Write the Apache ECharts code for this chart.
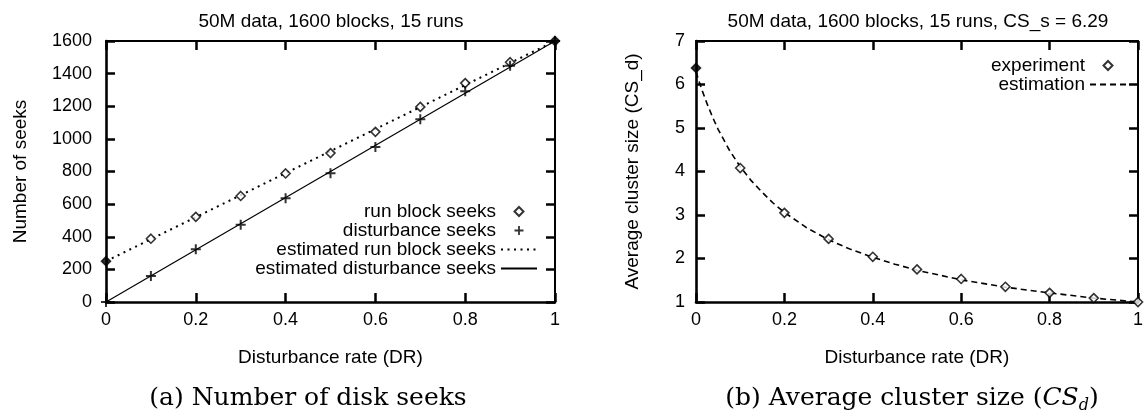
<!DOCTYPE html>
<html>
<head>
<meta charset="utf-8">
<script src="https://cdn.jsdelivr.net/npm/echarts@6/dist/echarts.min.js"></script>
<style>
  html, body { margin: 0; padding: 0; background: #fff; }
  #chart { width: 1146px; height: 419px; }
</style>
</head>
<body>
<div id="chart"></div>
<script>
// Disturbance rate samples shared by both panels
const disturbanceRates = [0, 0.1, 0.2, 0.3, 0.4, 0.5, 0.6, 0.7, 0.8, 0.9, 1];

// Panel (a): number of disk seeks
const runBlockSeeks = [250, 388, 522, 650, 788, 913, 1043, 1196, 1342, 1470, 1600];
const disturbanceSeeks = [0, 160, 323, 473, 636, 790, 950, 1120, 1292, 1448, 1600];
const estRunBlockRates = [0, 1];
const estRunBlockSeeks = [250, 1600];
const estDisturbanceRates = [0, 1];
const estDisturbanceSeeks = [0, 1600];

// Panel (b): average cluster size
const clusterSizeMeasured = [6.38, 4.08, 3.05, 2.45, 2.04, 1.75, 1.53, 1.35, 1.21, 1.09, 1.0];
const estClusterRates = [0, 0.0125, 0.025, 0.0375, 0.05, 0.075, 0.1, 0.125, 0.15, 0.175, 0.2, 0.25, 0.3, 0.35, 0.4, 0.45, 0.5, 0.6, 0.7, 0.8, 0.9, 1];
const estClusterSizes = [6.29, 5.9, 5.56, 5.25, 4.97, 4.5, 4.11, 3.79, 3.52, 3.27, 3.06, 2.71, 2.43, 2.21, 2.03, 1.87, 1.73, 1.51, 1.34, 1.21, 1.09, 1.0];

// Tick values
const rateTicks = [0, 0.2, 0.4, 0.6, 0.8, 1];
const seekTicks = [0, 200, 400, 600, 800, 1000, 1200, 1400, 1600];
const clusterTicks = [1, 2, 3, 4, 5, 6, 7];

// Text
const titleA = '50M data, 1600 blocks, 15 runs';
const titleB = '50M data, 1600 blocks, 15 runs, CS_s = 6.29';
const xName = 'Disturbance rate (DR)';
const yNameA = 'Number of seeks';
const yNameB = 'Average cluster size (CS_d)';
const captionA = '(a) Number of disk seeks';
const captionB = '(b) Average cluster size ({i|CS}{sub|d})';

const SANS = '"Liberation Sans", Arial, Helvetica, sans-serif';
const SERIF = '"DejaVu Serif", "Liberation Serif", serif';
const PLUS = 'path://M4,0H6V4H10V6H6V10H4V6H0V4H4Z';
const DIAMOND = 'path://M5,0L10,5L5,10L0,5Z';

const zip = (xs, ys) => xs.map((x, i) => [x, ys[i]]);
const scaleOf = ticks => ({ min: ticks[0], max: ticks[ticks.length - 1], interval: ticks[1] - ticks[0] });
// end samples are drawn solid where the curves meet
const diamonds = (xs, ys, filled) => xs.map((x, i) => (
  filled.includes(i) ? { value: [x, ys[i]], itemStyle: { color: '#000' } } : { value: [x, ys[i]] }
));

const plain = v => String(v);
const labelStyle = { color: '#000', fontSize: 18, fontFamily: SANS, formatter: plain };
const nameStyle = { color: '#000', fontSize: 19, fontFamily: SANS };
const tickStyle = () => ({ show: true, inside: true, length: 9, lineStyle: { color: '#000', width: 2.5 } });

function xAxes(grid) {
  const s = scaleOf(rateTicks);
  return [
    {
      gridIndex: grid, type: 'value', position: 'bottom', ...s,
      name: xName, nameLocation: 'middle', nameGap: 46, nameTextStyle: nameStyle,
      axisLine: { show: true, onZero: false, lineStyle: { color: '#000', width: 2.6 } },
      axisTick: tickStyle(),
      axisLabel: { ...labelStyle, margin: 9 },
      splitLine: { show: false }
    },
    {
      gridIndex: grid, type: 'value', position: 'top', ...s,
      axisLine: { show: true, onZero: false, lineStyle: { color: '#000', width: 2 } },
      axisTick: tickStyle(),
      axisLabel: { show: false },
      splitLine: { show: false }
    }
  ];
}

function yAxes(grid, ticks, name, gap, margin) {
  const s = scaleOf(ticks);
  return [
    {
      gridIndex: grid, type: 'value', position: 'left', ...s,
      name: name, nameLocation: 'middle', nameGap: gap, nameTextStyle: nameStyle,
      axisLine: { show: true, onZero: false, lineStyle: { color: '#000', width: 2.6 } },
      axisTick: tickStyle(),
      axisLabel: { ...labelStyle, margin: margin },
      splitLine: { show: false }
    },
    {
      gridIndex: grid, type: 'value', position: 'right', ...s,
      axisLine: { show: true, onZero: false, lineStyle: { color: '#000', width: 2 } },
      axisTick: tickStyle(),
      axisLabel: { show: false },
      splitLine: { show: false }
    }
  ];
}

const legendBase = {
  orient: 'vertical', align: 'right', padding: 0, itemGap: 0,
  itemWidth: 36, itemHeight: 9, selectedMode: false, symbolKeepAspect: true,
  textStyle: { color: '#000', fontSize: 19, fontFamily: SANS, lineHeight: 18.3 }
};
// line samples in the key carry no point marker
const lineKey = name => ({ name: name, itemStyle: { opacity: 0 } });

const last = disturbanceRates.length - 1;
const hollow = { color: '#fff', borderColor: '#000', borderWidth: 1.6 };

const option = {
  animation: false,
  backgroundColor: '#fff',
  title: [
    { text: titleA, left: 331, top: 12, textAlign: 'center', padding: 0,
      textStyle: { color: '#000', fontSize: 19, fontWeight: 'normal', fontFamily: SANS } },
    { text: titleB, left: 918, top: 12, textAlign: 'center', padding: 0,
      textStyle: { color: '#000', fontSize: 19, fontWeight: 'normal', fontFamily: SANS } },
    { text: captionA, left: 308, top: 386, textAlign: 'center', padding: 0,
      textStyle: { color: '#000', fontSize: 25, fontWeight: 'normal', fontFamily: SERIF } },
    { text: captionB, left: 912, top: 386, textAlign: 'center', padding: 0,
      textStyle: {
        color: '#000', fontSize: 25, fontWeight: 'normal', fontFamily: SERIF, lineHeight: 25,
        rich: {
          i: { fontSize: 25, fontStyle: 'italic', fontFamily: SERIF, lineHeight: 25 },
          sub: { fontSize: 16, fontStyle: 'italic', fontFamily: SERIF, lineHeight: 16, padding: [14, 0, 0, 0] }
        }
      } }
  ],
  legend: [
    { ...legendBase, right: 608, top: 202,
      data: ['run block seeks', 'disturbance seeks',
             lineKey('estimated run block seeks'), lineKey('estimated disturbance seeks')] },
    { ...legendBase, right: 19, top: 56, data: ['experiment', lineKey('estimation')] }
  ],
  grid: [
    { left: 106, top: 41, width: 449, height: 261 },
    { left: 696, top: 41, width: 453, height: 261 }
  ],
  xAxis: [...xAxes(0), ...xAxes(1)],
  yAxis: [
    ...yAxes(0, seekTicks, yNameA, 76, 14),
    ...yAxes(1, clusterTicks, yNameB, 54, 11)
  ],
  series: [
    {
      name: 'estimated run block seeks', type: 'line', xAxisIndex: 0, yAxisIndex: 0,
      data: zip(estRunBlockRates, estRunBlockSeeks), symbol: 'none', z: 2,
      itemStyle: { color: '#000' },
      lineStyle: { color: '#000', width: 2, type: [2, 4.5] }
    },
    {
      name: 'estimated disturbance seeks', type: 'line', xAxisIndex: 0, yAxisIndex: 0,
      data: zip(estDisturbanceRates, estDisturbanceSeeks), symbol: 'none', z: 2,
      itemStyle: { color: '#000' },
      lineStyle: { color: '#000', width: 1.2, type: 'solid' }
    },
    {
      name: 'run block seeks', type: 'scatter', xAxisIndex: 0, yAxisIndex: 0,
      data: diamonds(disturbanceRates, runBlockSeeks, [0, last]),
      symbol: DIAMOND, symbolSize: 9, symbolKeepAspect: true, z: 3,
      itemStyle: hollow
    },
    {
      name: 'disturbance seeks', type: 'scatter', xAxisIndex: 0, yAxisIndex: 0,
      data: zip(disturbanceRates, disturbanceSeeks),
      symbol: PLUS, symbolSize: 10, symbolKeepAspect: true, z: 3,
      itemStyle: { color: '#000' }
    },
    {
      name: 'estimation', type: 'line', xAxisIndex: 2, yAxisIndex: 2,
      data: zip(estClusterRates, estClusterSizes), symbol: 'none', z: 2,
      itemStyle: { color: '#000' },
      lineStyle: { color: '#000', width: 1.6, type: [6, 4] }
    },
    {
      name: 'experiment', type: 'scatter', xAxisIndex: 2, yAxisIndex: 2,
      data: diamonds(disturbanceRates, clusterSizeMeasured, [0]),
      symbol: DIAMOND, symbolSize: 9, symbolKeepAspect: true, z: 3,
      itemStyle: hollow
    }
  ]
};

const chart = echarts.init(document.getElementById('chart'), null, { renderer: 'canvas' });
chart.setOption(option);
</script>
</body>
</html>
